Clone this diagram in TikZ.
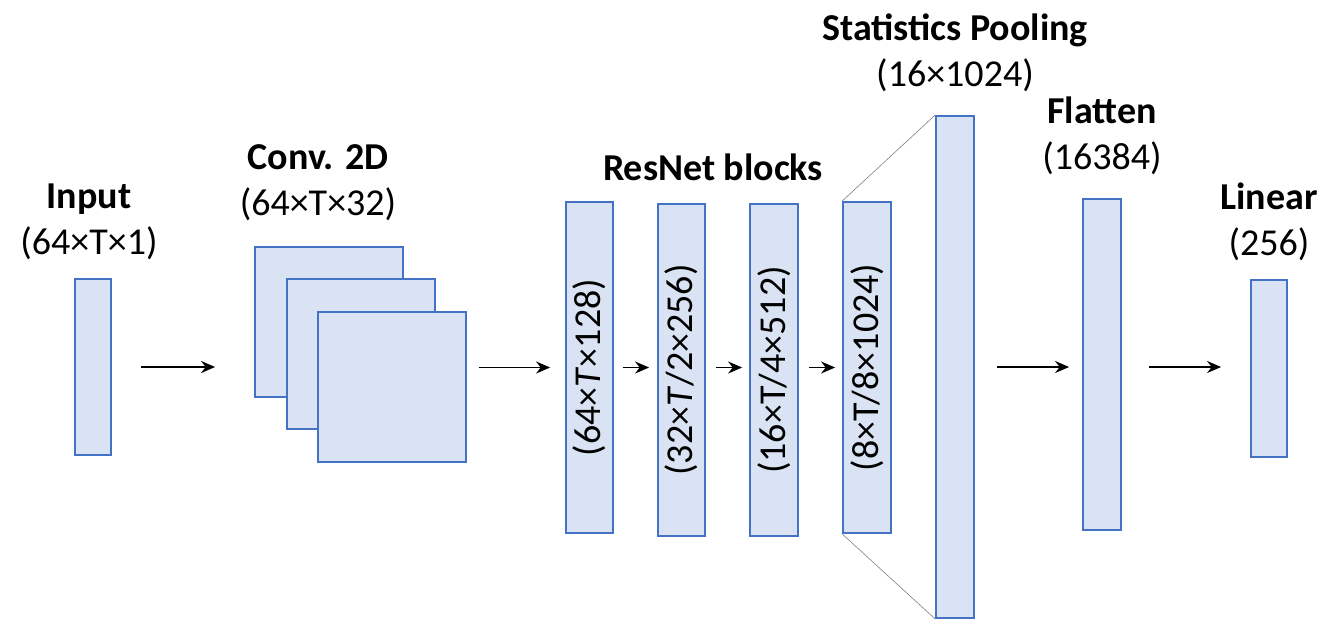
\documentclass[tikz,border=0pt]{standalone}
\usepackage{fontspec}
\setmainfont{Carlito}
\usetikzlibrary{arrows.meta,positioning}
\definecolor{boxfill}{HTML}{DAE3F3}
\definecolor{boxline}{HTML}{4472C4}
\begin{document}
\begin{tikzpicture}[x=1pt,y=-1pt,
  blk/.style={draw=boxline,line width=1.8pt,fill=boxfill,inner sep=0pt},
  lbl/.style={font=\fontsize{38}{46}\selectfont,align=center},
  arr/.style={-{Stealth[length=14pt,width=12pt]},line width=1.8pt}]
\useasboundingbox (0,0) rectangle (1329,625);
% input
\node[blk,minimum width=36,minimum height=176] (in) at (93,367) {};
\node[lbl] at (89,222) {\textbf{Input}\\(64×T×1)};
% conv stack
\foreach \i/\x/\y in {1/329/322,2/361/354,3/392/387}
  \node[blk,minimum width=148,minimum height=150] (c\i) at (\x,\y) {};
\node[lbl] at (318,183) {\textbf{Conv. 2D}\\(64×T×32)};
% resnet blocks
\node[blk,rotate=90,minimum width=331,minimum height=47,lbl] (r1) at (589.5,367.5) {(64×\textit{T}×128)};
\node[blk,rotate=90,minimum width=332,minimum height=47,lbl] (r2) at (681.5,370) {(32×\textit{T}/2×256)};
\node[blk,rotate=90,minimum width=332,minimum height=48,lbl] (r3) at (774,370) {(16×T/4×512)};
\node[blk,rotate=90,minimum width=331,minimum height=48,lbl] (r4) at (867,367.5) {(8×T/8×1024)};
\node[lbl,font=\bfseries\fontsize{38}{46}\selectfont] at (713,167) {ResNet blocks};
% pooling, flatten, linear
\node[blk,minimum width=38,minimum height=502] (sp) at (955,367) {};
\node[lbl] at (955,53) {\textbf{Statistics Pooling}\\(16×1024)};
\node[blk,minimum width=38,minimum height=331] (fl) at (1102,364.5) {};
\node[lbl] at (1102,136) {\textbf{Flatten}\\(16384)};
\node[blk,minimum width=36,minimum height=177] (li) at (1269,368.5) {};
\node[lbl] at (1269,222) {\textbf{Linear}\\(256)};
% connectors
\draw[gray,line width=0.6pt] (r4.north east) -- (sp.north west);
\draw[gray,line width=0.6pt] (r4.north west) -- (sp.south west);
\draw[arr] ([xshift=29]in.east) -- ([xshift=-39]in.east -| c1.west);
\draw[arr] ([xshift=12]c3.east |- r1.center) -- ([xshift=-15]r1.north);
\draw[arr] ([xshift=9]r1.south) -- ([xshift=-8]r2.north |- r1.south);
\draw[arr] ([xshift=10]r2.south |- r1.south) -- ([xshift=-7]r3.north |- r1.south);
\draw[arr] ([xshift=10]r3.south |- r1.south) -- ([xshift=-7]r4.north);
\draw[arr] ([xshift=22]sp.east) -- ([xshift=-13]sp.east -| fl.west);
\draw[arr] ([xshift=27]fl.east |- sp.east) -- ([xshift=-29]sp.east -| li.west);
\end{tikzpicture}
\end{document}
